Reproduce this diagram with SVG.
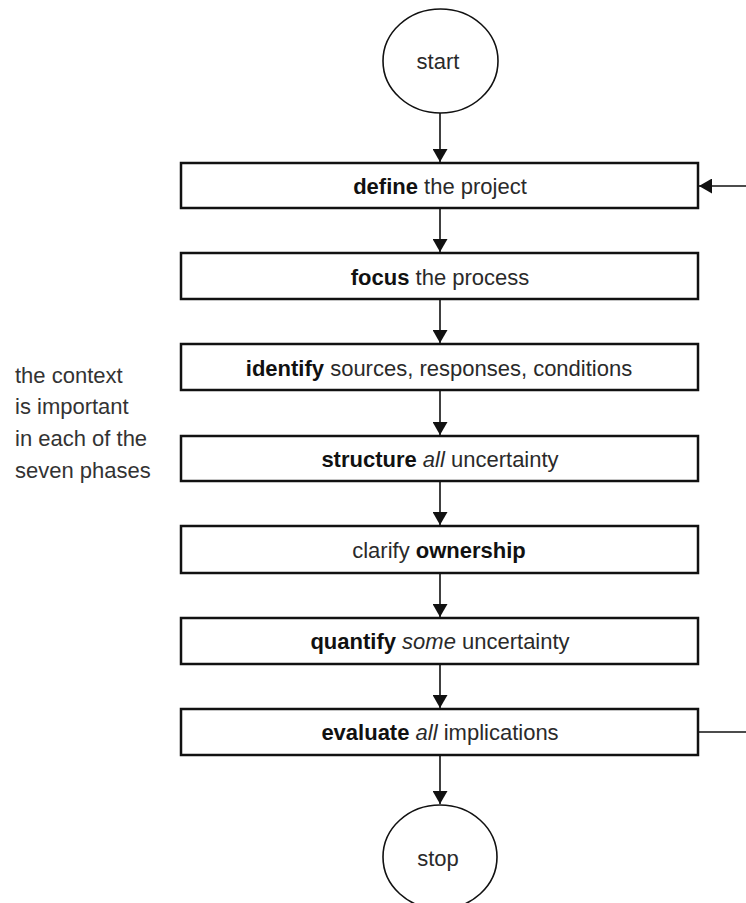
<svg xmlns="http://www.w3.org/2000/svg" width="746" height="903" viewBox="0 0 746 903">
<style>
  .box { fill: #fff; stroke: #111; stroke-width: 2.5; }
  .term { fill: #fff; stroke: #111; stroke-width: 1.6; }
  .t { font-family: "Liberation Sans", Arial, sans-serif; font-size: 22px; fill: #2a2a2a; text-anchor: middle; }
  .side { font-family: "Liberation Sans", Arial, sans-serif; font-size: 22px; fill: #333; }
  .b { font-weight: bold; fill: #111; }
  .i { font-style: italic; }
  .conn line { stroke: #111; stroke-width: 1.6; }
</style>
<defs>
  <marker id="arr" markerUnits="userSpaceOnUse" markerWidth="14" markerHeight="15" refX="13" refY="7.5" orient="auto">
    <path d="M0,0 L13,7.5 L0,15 z" fill="#111"/>
  </marker>
</defs>
<rect width="746" height="903" fill="#fff"/>

<g id="connectors" class="conn">
  <line x1="440" y1="113" x2="440" y2="162" marker-end="url(#arr)"/>
  <line x1="440" y1="208" x2="440" y2="252" marker-end="url(#arr)"/>
  <line x1="440" y1="299" x2="440" y2="343" marker-end="url(#arr)"/>
  <line x1="440" y1="390" x2="440" y2="435" marker-end="url(#arr)"/>
  <line x1="440" y1="481" x2="440" y2="525" marker-end="url(#arr)"/>
  <line x1="440" y1="573" x2="440" y2="617" marker-end="url(#arr)"/>
  <line x1="440" y1="664" x2="440" y2="708" marker-end="url(#arr)"/>
  <line x1="440" y1="755" x2="440" y2="804" marker-end="url(#arr)"/>
  <line x1="746" y1="186" x2="699" y2="186" marker-end="url(#arr)"/>
  <line x1="698" y1="732" x2="746" y2="732"/>
</g>

<g id="start">
  <ellipse class="term" cx="440.5" cy="61" rx="57.5" ry="52"/>
  <text class="t" x="438" y="69" font-size="23">start</text>
</g>

<g id="define">
  <rect class="box" x="181" y="163" width="517" height="45"/>
  <text class="t" x="440" y="194"><tspan class="b">define</tspan> the project</text>
</g>

<g id="focus">
  <rect class="box" x="181" y="253" width="517" height="46"/>
  <text class="t" x="440" y="285"><tspan class="b">focus</tspan> the process</text>
</g>

<g id="identify">
  <rect class="box" x="181" y="344" width="517" height="46"/>
  <text class="t" x="439" y="376"><tspan class="b">identify</tspan> sources, responses, conditions</text>
</g>

<g id="structure">
  <rect class="box" x="181" y="436" width="517" height="45"/>
  <text class="t" x="440" y="467"><tspan class="b">structure</tspan> <tspan class="i">all</tspan> uncertainty</text>
</g>

<g id="clarify">
  <rect class="box" x="181" y="526" width="517" height="47"/>
  <text class="t" x="439" y="558">clarify <tspan class="b">ownership</tspan></text>
</g>

<g id="quantify">
  <rect class="box" x="181" y="618" width="517" height="46"/>
  <text class="t" x="440" y="649"><tspan class="b">quantify</tspan> <tspan class="i">some</tspan> uncertainty</text>
</g>

<g id="evaluate">
  <rect class="box" x="181" y="709" width="517" height="46"/>
  <text class="t" x="440" y="740"><tspan class="b">evaluate</tspan> <tspan class="i">all</tspan> implications</text>
</g>

<g id="stop">
  <ellipse class="term" cx="440" cy="857" rx="57" ry="52"/>
  <text class="t" x="438" y="866" font-size="23">stop</text>
</g>

<g id="context-note">
  <text class="side" x="15" y="383">the context</text>
  <text class="side" x="15" y="414">is important</text>
  <text class="side" x="15" y="446">in each of the</text>
  <text class="side" x="15" y="478">seven phases</text>
</g>
</svg>
